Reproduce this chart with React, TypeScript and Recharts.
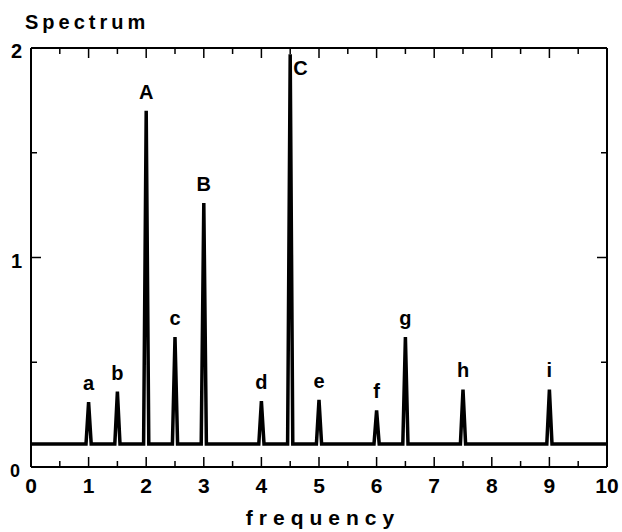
import React from 'react';
import { ComposedChart, Line, Scatter, XAxis, YAxis } from 'recharts';

const peakFreq = [1, 1.5, 2, 2.5, 3, 4, 4.5, 5, 6, 6.5, 7.5, 9];
const peakHeight = [0.31, 0.36, 1.7, 0.62, 1.26, 0.315, 1.97, 0.32, 0.27, 0.62, 0.37, 0.37];
const peakLabels = ['a', 'b', 'A', 'c', 'B', 'd', 'C', 'e', 'f', 'g', 'h', 'i'];
const baseline = 0.11;
const xDomain = [0, 10];
const yDomain = [0, 2];
const xTicks = [0, 0.5, 1, 1.5, 2, 2.5, 3, 3.5, 4, 4.5, 5, 5.5, 6, 6.5, 7, 7.5, 8, 8.5, 9, 9.5, 10];
const yTicks = [0, 0.5, 1, 1.5, 2];

const HALF_WIDTH = 0.045;
const FONT = '"Liberation Sans", Arial, sans-serif';

const lineData: { x: number; y: number }[] = [{ x: xDomain[0], y: baseline }];
peakFreq.forEach((f, i) => {
  lineData.push({ x: f - HALF_WIDTH, y: baseline });
  lineData.push({ x: f, y: peakHeight[i] });
  lineData.push({ x: f + HALF_WIDTH, y: baseline });
});
lineData.push({ x: xDomain[1], y: baseline });

const labelData = peakFreq.map((f, i) => ({ x: f, y: peakHeight[i], label: peakLabels[i] }));

const isMajor = (v: number) => Math.abs(v - Math.round(v)) < 1e-6;

const BottomTick = (props: any) => {
  const { x, y, payload } = props;
  const v = payload.value;
  const major = isMajor(v);
  return (
    <g>
      <line x1={x} x2={x} y1={y} y2={y - (major ? 10 : 6)} stroke="#000" strokeWidth={1.5} />
      {major && (
        <text x={x} y={y + 26} textAnchor="middle" fontFamily={FONT} fontWeight="bold" fontSize={21} fill="#000">
          {v}
        </text>
      )}
    </g>
  );
};

const TopTick = (props: any) => {
  const { x, y, payload } = props;
  const major = isMajor(payload.value);
  return <line x1={x} x2={x} y1={y} y2={y + (major ? 10 : 6)} stroke="#000" strokeWidth={1.5} />;
};

const LeftTick = (props: any) => {
  const { x, y, payload } = props;
  const v = payload.value;
  const major = isMajor(v);
  const isZero = v === 0;
  return (
    <g>
      <line x1={x} x2={x + (major ? 10 : 6)} y1={y} y2={y} stroke="#000" strokeWidth={1.5} />
      {major && (
        <text
          x={isZero ? x - 11 : x - 9}
          y={isZero ? y + 10 : y + 10}
          textAnchor="end"
          fontFamily={FONT}
          fontWeight="bold"
          fontSize={isZero ? 18 : 20}
          fill="#000"
        >
          {v}
        </text>
      )}
    </g>
  );
};

const RightTick = (props: any) => {
  const { x, y, payload } = props;
  const major = isMajor(payload.value);
  return <line x1={x} x2={x - (major ? 10 : 6)} y1={y} y2={y} stroke="#000" strokeWidth={1.5} />;
};

const PeakLabel = (props: any) => {
  const { cx, cy, payload } = props;
  if (cx == null || cy == null) return <g />;
  const isC = payload.label === 'C';
  return (
    <text
      x={isC ? cx + 3 : cx}
      y={isC ? cy + 21 : cy - 12}
      textAnchor={isC ? 'start' : 'middle'}
      fontFamily={FONT}
      fontWeight="bold"
      fontSize={20}
      fill="#000"
    >
      {payload.label}
    </text>
  );
};

export default function App() {
  return (
    <div style={{ position: 'absolute', left: 8, top: 8, width: 614, height: 524 }}>
      <ComposedChart
        width={614}
        height={524}
        data={lineData}
        margin={{ top: 0, right: 0, bottom: 0, left: 0 }}
      >
        <XAxis
          dataKey="x"
          type="number"
          domain={xDomain}
          ticks={xTicks}
          height={65}
          tickSize={0}
          tickMargin={0}
          tickLine={false}
          axisLine={{ stroke: '#000', strokeWidth: 2 }}
          tick={<BottomTick />}
          interval={0}
          allowDataOverflow
        />
        <XAxis
          xAxisId="top"
          orientation="top"
          dataKey="x"
          type="number"
          domain={xDomain}
          ticks={xTicks}
          height={40}
          tickSize={0}
          tickMargin={0}
          tickLine={false}
          axisLine={{ stroke: '#000', strokeWidth: 2 }}
          tick={<TopTick />}
          interval={0}
          allowDataOverflow
        />
        <YAxis
          type="number"
          domain={yDomain}
          ticks={yTicks}
          width={23}
          tickSize={0}
          tickMargin={0}
          tickLine={false}
          axisLine={{ stroke: '#000', strokeWidth: 2 }}
          tick={<LeftTick />}
          interval={0}
          allowDataOverflow
        />
        <YAxis
          yAxisId="right"
          orientation="right"
          type="number"
          domain={yDomain}
          ticks={yTicks}
          width={15}
          tickSize={0}
          tickMargin={0}
          tickLine={false}
          axisLine={{ stroke: '#000', strokeWidth: 2 }}
          tick={<RightTick />}
          interval={0}
          allowDataOverflow
        />
        <Line
          dataKey="y"
          type="linear"
          stroke="#000"
          strokeWidth={3.5}
          dot={false}
          activeDot={false}
          isAnimationActive={false}
        />
        <Scatter
          data={labelData}
          dataKey="y"
          xAxisId="top"
          yAxisId="right"
          shape={<PeakLabel />}
          isAnimationActive={false}
        />
      </ComposedChart>
      <svg
        width={614}
        height={524}
        style={{ position: 'absolute', left: 0, top: 0, pointerEvents: 'none' }}
      >
        <text x={17} y={21} fontFamily={FONT} fontWeight="bold" fontSize={20} letterSpacing={4} fill="#000">
          Spectrum
        </text>
        <text x={315} y={517} textAnchor="middle" fontFamily={FONT} fontWeight="bold" fontSize={21} letterSpacing={6} fill="#000">
          frequency
        </text>
      </svg>
    </div>
  );
}
